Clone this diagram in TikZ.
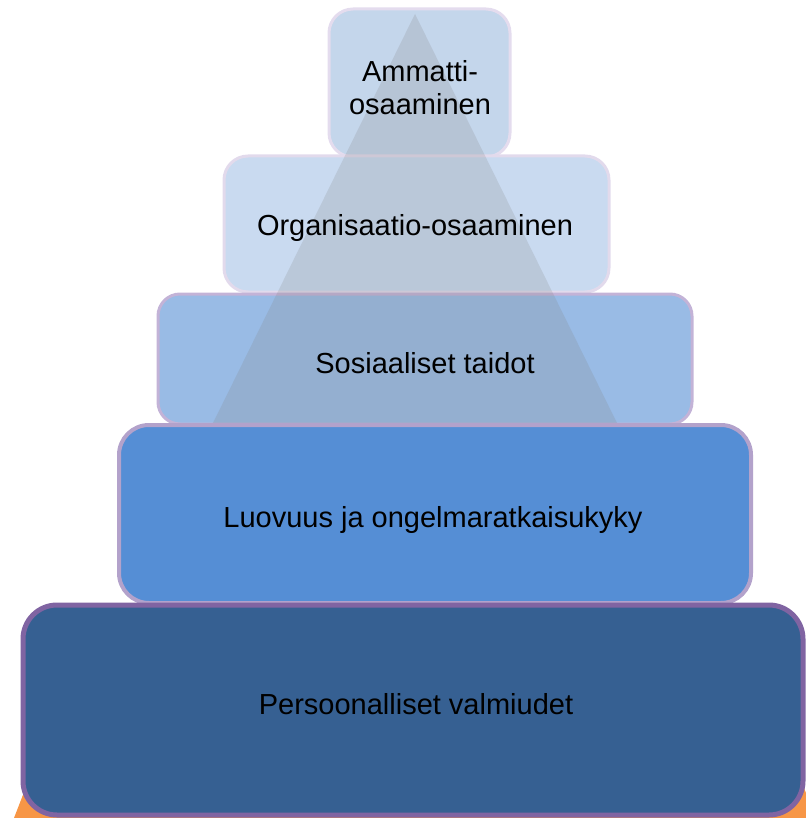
\documentclass[tikz,border=0pt]{standalone}
\usepackage{fontspec}
\setmainfont{Liberation Sans}
\usetikzlibrary{calc}

\definecolor{orangeBase}{HTML}{F79646}
\definecolor{fillA}{HTML}{C4D6EB}
\definecolor{fillB}{HTML}{C9DAF0}
\definecolor{fillC}{HTML}{99BBE5}
\definecolor{fillD}{HTML}{558ED5}
\definecolor{fillE}{HTML}{366092}
\definecolor{lineA}{HTML}{E4DCEE}
\definecolor{lineB}{HTML}{E2DAEC}
\definecolor{lineC}{HTML}{C3B3D7}
\definecolor{lineD}{HTML}{B3A2CB}
\definecolor{lineE}{HTML}{8064A2}

\begin{document}
\begin{tikzpicture}[x=1pt,y=-1pt,
	layer/.style={line width=3pt},
	caption/.style={font=\fontsize{29}{33}\selectfont, align=center, inner sep=0pt, text=black}]
	\useasboundingbox (0,0) rectangle (805,818);
	
	%orange base, mostly hidden
	\fill[orangeBase] (14,818) -- (83,640) -- (745,640) -- (816,818) -- cycle;
	
	%layers from the top down
	\draw[layer, draw=lineA, fill=fillA, rounded corners=24pt] (329,9) rectangle (510,157);
	\draw[layer, draw=lineB, fill=fillB, rounded corners=24pt] (224,156) rectangle (609,292);
	\draw[layer, draw=lineC, fill=fillC, rounded corners=22pt] (158,294) rectangle (692,424);
	
	%grey pyramid over the upper layers
	\coordinate (apex) at (415,14);
	\fill[gray, opacity=0.2] (apex) -- (212,425) -- (618,425) -- cycle;
	
	\draw[layer, line width=4pt, draw=lineD, fill=fillD, rounded corners=30pt] (119,425) rectangle (751,603);
	\draw[layer, line width=5pt, draw=lineE, fill=fillE, rounded corners=34pt] (23,605) rectangle (803,815);
	
	%captions
	\node[caption] (ammatti) at (420,88) {Ammatti-\\osaaminen};
	\node[caption, anchor=base] (organisaatio) at (415,236) {Organisaatio-osaaminen};
	\node[caption, anchor=base] (sosiaaliset) at (425,373) {Sosiaaliset taidot};
	\node[caption, anchor=base] (luovuus) at (433,527) {Luovuus ja ongelmaratkaisukyky};
	\node[caption, anchor=base] (persoonalliset) at (416,714) {Persoonalliset valmiudet};
\end{tikzpicture}
\end{document}
